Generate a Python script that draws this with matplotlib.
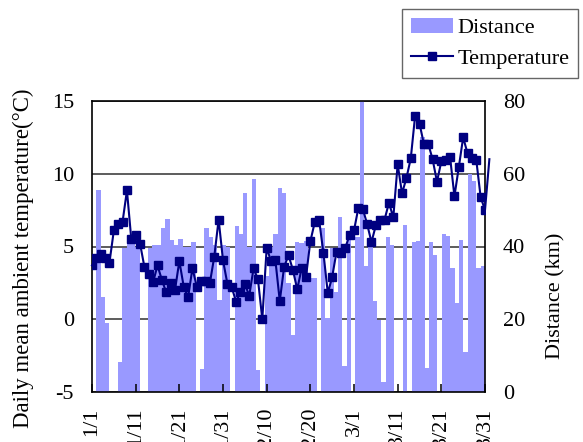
import matplotlib
matplotlib.use('Agg')  # no display
import matplotlib.pyplot as plt
from matplotlib.lines import Line2D
from matplotlib.patches import Patch
import numpy as np
import pandas as pd

# daily data, 1/1 - 3/31 (leap year, 91 days)
days = pd.date_range('2008-01-01', '2008-03-31', freq='D')
day_labels = [f'{d.month}/{d.day}' for d in days]

# daily driving distance (km)
distance = [
    0, 55.5, 26, 19, 0, 0, 8.3, 39.5, 41, 41,
    40, 0, 0, 39.7, 40.4, 40.4, 45.2, 47.5, 41.8, 40.5,
    42, 40, 40, 41.2, 0, 6.3, 45.2, 42.5, 40.5, 25.3,
    40.4, 40, 0, 45.6, 43.5, 54.8, 40, 58.6, 6, 0,
    32, 40, 43.4, 56, 54.6, 29.9, 15.7, 41.3, 41, 41.5,
    31.4, 31.4, 0, 45.2, 20.4, 39.5, 27.6, 48.2, 7.2, 42.7,
    0, 42.7, 80.9, 34.7, 41, 25, 19.8, 2.8, 42.7, 40.4,
    0, 0, 45.9, 0, 41.3, 41.5, 70.2, 6.5, 41.3, 37.7,
    0, 43.3, 43, 34.2, 24.4, 41.8, 10.9, 60, 58, 34,
    34.6,
]

# daily mean ambient temperature (deg C)
temperature = [
    3.7, 4.2, 4.5, 4.2, 3.9, 6.1, 6.55, 6.7, 8.85, 5.5,
    5.8, 5.2, 3.6, 3.1, 2.55, 3.7, 2.7, 1.85, 2.5, 2.0,
    4.0, 2.25, 1.5, 3.5, 2.25, 2.6, 2.6, 2.5, 4.3, 6.85,
    4.05, 2.45, 2.2, 1.2, 1.9, 2.45, 1.6, 3.5, 2.75, 0.0,
    4.9, 4.0, 4.05, 1.25, 3.6, 4.4, 3.4, 2.05, 3.5, 2.9,
    5.35, 6.65, 6.85, 4.55, 1.8, 2.9, 4.65, 4.55, 4.9, 5.8,
    6.1, 7.65, 7.6, 6.55, 5.3, 6.45, 6.85, 6.85, 8.0, 7.0,
    10.65, 8.65, 9.7, 11.05, 14.0, 13.45, 12.05, 12.05, 11.0, 9.45,
    10.85, 10.95, 11.15, 8.45, 10.45, 12.5, 11.4, 11.05, 10.95, 8.4,
    7.5,
]
# the line runs on a little past 3/31 in the original
temperature_next = 11.0

tick_every = 10

plt.rcParams['font.family'] = ['Liberation Serif', 'DejaVu Serif']
plt.rcParams['axes.unicode_minus'] = False
FS = 16
BAR_COLOR = '#9999ff'
LINE_COLOR = '#000080'

fig = plt.figure(figsize=(5.83, 4.42), dpi=100)
rect = [92 / 583, 1 - 392 / 442, 393 / 583, 291 / 442]

# bars: own category axis (between tick marks), right value axis
axb = fig.add_axes(rect)
n = len(distance)
axb.bar(np.arange(n), distance, width=1.0, align='edge',
        color=BAR_COLOR, edgecolor='none', linewidth=0, zorder=2)
axb.set_xlim(0, n)
axb.set_ylim(0, 80)
axb.set_yticks(np.arange(0, 81, 20))
axb.yaxis.tick_right()
axb.tick_params(axis='y', length=0, pad=13, labelsize=FS)
axb.tick_params(axis='x', bottom=False, labelbottom=False)
axb.grid(axis='y', color='#303030', linewidth=1.1, zorder=1)
axb.set_axisbelow(True)
for s in axb.spines.values():
    s.set_visible(False)

# temperature line on top
ax = fig.add_axes(rect)
ax.set_zorder(axb.get_zorder() + 1)
ax.patch.set_visible(False)
x = np.arange(len(temperature))
ax.plot(np.append(x, len(temperature)), temperature + [temperature_next],
        color=LINE_COLOR, linewidth=1.5, clip_on=False, zorder=3)
ax.plot(x, temperature, linestyle='none', marker='s', markersize=6,
        color=LINE_COLOR, markeredgecolor=LINE_COLOR, zorder=4)
ax.set_xlim(0, len(temperature) - 1)
ax.set_ylim(-5, 15)
ax.set_yticks(np.arange(-5, 16, 5))
ax.tick_params(axis='y', length=0, pad=13, labelsize=FS)
ticks = np.arange(0, len(temperature), tick_every)
ax.set_xticks(ticks)
ax.set_xticklabels([day_labels[i] for i in ticks], rotation=90)
ax.tick_params(axis='x', direction='in', length=5.5, width=1.1, pad=11,
               labelsize=FS)
for s in ax.spines.values():
    s.set_linewidth(1.2)
    s.set_color('black')

fig.text(23 / 583, 1 - 258 / 442, 'Daily mean ambient temperature(°C)',
         rotation=90, ha='center', va='center', fontsize=16.5)
fig.text(556 / 583, 1 - 296 / 442, 'Distance (km)',
         rotation=90, ha='center', va='center', fontsize=FS)

handles = [Patch(facecolor=BAR_COLOR, edgecolor='none'),
           Line2D([], [], color=LINE_COLOR, linewidth=1.5, marker='s',
                  markersize=6)]
fig.legend(handles, ['Distance', 'Temperature'], loc='upper left',
           bbox_to_anchor=(402 / 583, 1 - 9 / 442), fontsize=FS,
           frameon=True, fancybox=False, edgecolor='#404040',
           borderpad=0.4, handlelength=1.9, handletextpad=0.2,
           labelspacing=0.45, borderaxespad=0)

plt.savefig('out.png', dpi=100)
plt.close()
